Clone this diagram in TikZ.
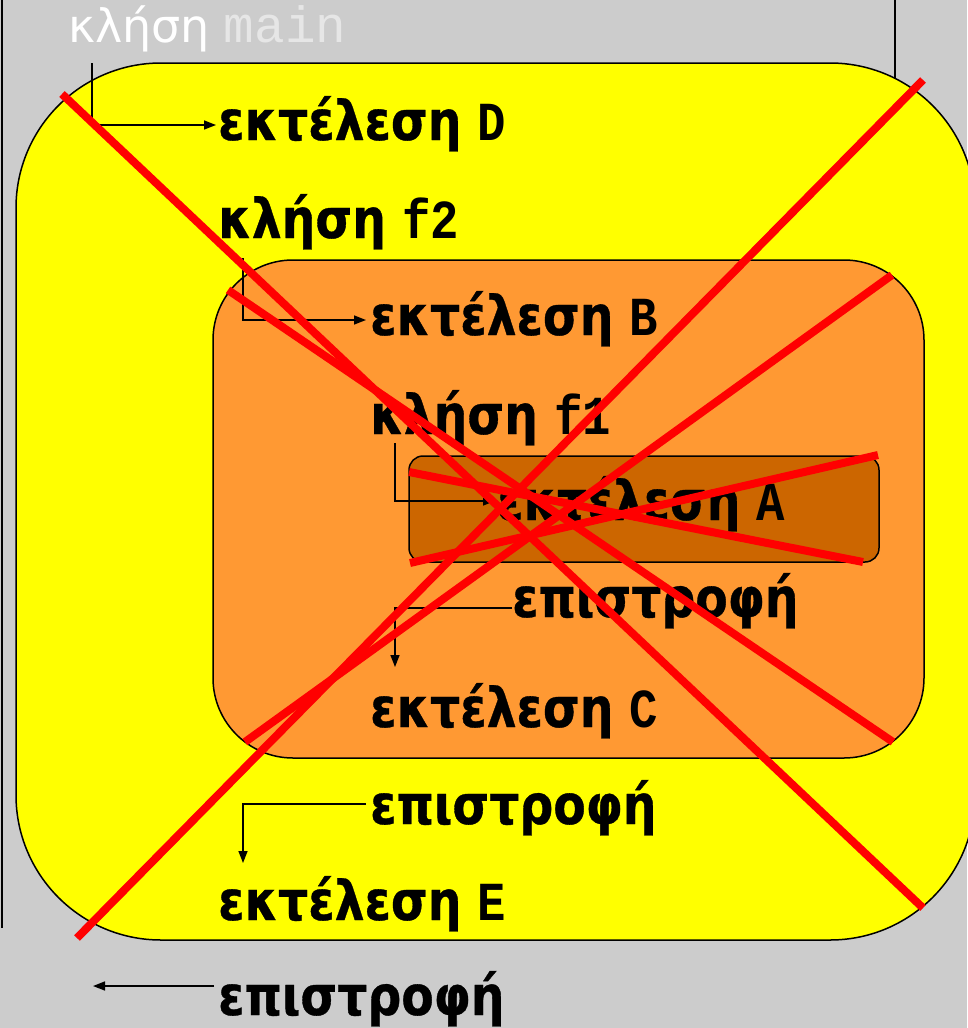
\documentclass[tikz,border=0pt]{standalone}
\usepackage{fontspec}
\setmainfont{DejaVu Sans}
\newfontfamily\greekbold{DejaVu Sans}[UprightFont=* Bold, FakeStretch=0.86, FakeBold=0.6]
\newfontfamily\codebold{Liberation Mono}[UprightFont=* Bold, FakeStretch=0.86]
\newfontfamily\codelight{Liberation Mono}
\newcommand{\fname}[1]{{\codebold #1}}
\usetikzlibrary{arrows.meta}
\definecolor{bggray}{HTML}{CCCCCC}
\definecolor{outeryellow}{HTML}{FFFF00}
\definecolor{midorange}{HTML}{FF9933}
\definecolor{innerorange}{HTML}{CC6600}
\definecolor{mainmono}{HTML}{E6E6E6}
\tikzset{
  codetext/.style={anchor=base west, inner sep=0pt, font=\greekbold\fontsize{55}{60}\selectfont},
  flow/.style={line width=1.5pt, -{Triangle[length=12pt,width=9pt]}},
  cross/.style={red, line width=8pt},
  block/.style={draw=black, line width=1.5pt}
}
\begin{document}
\begin{tikzpicture}[x=1pt,y=-1pt]
\useasboundingbox (0,0) rectangle (967,1028);
% Background and frame
\fill[bggray] (0,0) rectangle (967,1028);
\draw[line width=1.5pt] (2,0) -- (2,928);
\draw[line width=1.5pt] (895,0) -- (895,880);
% Nested blocks
\draw[block, fill=outeryellow, rounded corners=145pt] (16,63) rectangle (975,940);
\draw[block, fill=midorange, rounded corners=80pt] (213,260) rectangle (924,758);
\draw[block, fill=innerorange, rounded corners=14pt] (409,456) rectangle (879,562);
% Texts
\node[anchor=base west, inner sep=0pt] (callmain) at (68,42)
  {\fontsize{46}{50}\selectfont\textcolor{white}{κλήση}\hspace{14pt}\textcolor{mainmono}{\codelight\fontsize{51}{50}\selectfont main}};
\node[codetext] (execD) at (218,140) {εκτέλεση \fname{D}};
\node[codetext] (callftwo) at (218,238) {κλήση \fname{f2}};
\node[codetext] (execB) at (370,335) {εκτέλεση \fname{B}};
\node[codetext] (callfone) at (370,434) {κλήση \fname{f1}};
\node[codetext] (execA) at (497,520) {εκτέλεση \fname{A}};
\node[codetext] (retA) at (512,617) {επιστροφή};
\node[codetext] (execC) at (370,727) {εκτέλεση \fname{C}};
\node[codetext] (retB) at (370,824) {επιστροφή};
\node[codetext] (execE) at (218,920) {εκτέλεση \fname{E}};
\node[codetext] (retmain) at (218,1015) {επιστροφή};
% Calls and returns
\coordinate (mainstart) at (92,63);
\coordinate (ftwostart) at (243,258);
\coordinate (fonestart) at (395,443);
\coordinate (retAend) at (395,667);
\coordinate (retBend) at (243,863);
\coordinate (retmainend) at (93,986);
\draw[flow] (mainstart) |- ([xshift=-2pt,yshift=15pt]execD.base west);
\draw[flow] (ftwostart) |- ([xshift=-4pt,yshift=15pt]execB.base west);
\draw[flow] (fonestart) |- ([xshift=-2pt,yshift=19pt]execA.base west);
\draw[flow] ([yshift=9pt]retA.base west) -| (retAend);
\draw[flow] ([xshift=-4pt,yshift=20pt]retB.base west) -| (retBend);
\draw[flow] ([xshift=-4pt,yshift=29pt]retmain.base west) -- (retmainend);
% Cross out the blocks
\draw[cross] (62,94) -- (923,908);
\draw[cross] (923,80) -- (77,938);
\draw[cross] (228,290) -- (893,742);
\draw[cross] (892,275) -- (245,742);
\draw[cross] (409,472) -- (863,562);
\draw[cross] (410,563) -- (878,455);
\end{tikzpicture}
\end{document}
